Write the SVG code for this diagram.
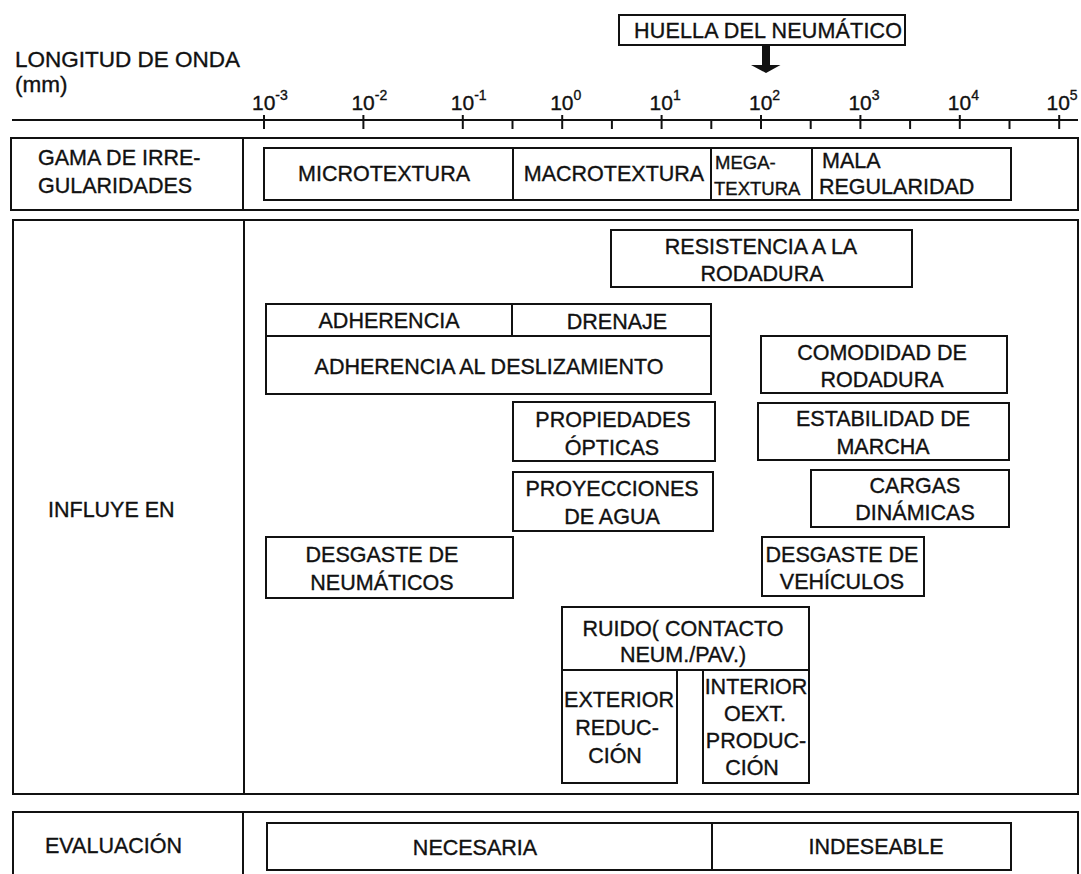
<svg xmlns="http://www.w3.org/2000/svg" width="1081" height="874" viewBox="0 0 1081 874">
<style>
.box{fill:none;stroke:#111;stroke-width:2}
.ln{stroke:#111;stroke-width:2;fill:none}
.t{font-family:'Liberation Sans',Arial,sans-serif;font-size:21.5px;fill:#111;stroke:#111;stroke-width:0.35}
.s{font-size:18.5px}
.ax{font-size:21px}
.sup{font-size:14px}
.ttl{font-size:22.5px}
.c{text-anchor:middle}
</style>
<rect width="1081" height="874" fill="#fff"/>

<g id="title">
<text class="t ttl" x="15" y="67">LONGITUD DE ONDA</text>
<text class="t ttl" x="15" y="92">(mm)</text>
</g>

<g id="huella">
<rect class="box" x="619" y="15" width="286" height="30"/>
<text class="t" x="634" y="38" textLength="268">HUELLA DEL NEUMÁTICO</text>
</g>

<g id="connectors">
<path d="M762 45 H770 V65 H780.5 L766 73 L751 65 H762 Z" fill="#111"/>
</g>

<g id="axis">
<line class="ln" x1="12" y1="120" x2="1078" y2="120"/>
<g class="ln">
<line x1="264" y1="115" x2="264" y2="129"/>
<line x1="363.4" y1="115" x2="363.4" y2="129"/>
<line x1="462.8" y1="115" x2="462.8" y2="129"/>
<line x1="562.2" y1="115" x2="562.2" y2="129"/>
<line x1="661.6" y1="115" x2="661.6" y2="129"/>
<line x1="761" y1="115" x2="761" y2="129"/>
<line x1="860.4" y1="115" x2="860.4" y2="129"/>
<line x1="959.8" y1="115" x2="959.8" y2="129"/>
<line x1="1059.2" y1="115" x2="1059.2" y2="129"/>
<line x1="512.5" y1="121" x2="512.5" y2="129"/>
<line x1="611.9" y1="121" x2="611.9" y2="129"/>
<line x1="711.3" y1="121" x2="711.3" y2="129"/>
<line x1="810.7" y1="121" x2="810.7" y2="129"/>
<line x1="910.1" y1="121" x2="910.1" y2="129"/>
<line x1="1009.5" y1="121" x2="1009.5" y2="129"/>
</g>
<text class="t ax" x="252" y="110">10<tspan class="sup" dy="-10">-3</tspan></text>
<text class="t ax" x="351.4" y="110">10<tspan class="sup" dy="-10">-2</tspan></text>
<text class="t ax" x="450.8" y="110">10<tspan class="sup" dy="-10">-1</tspan></text>
<text class="t ax" x="550.2" y="110">10<tspan class="sup" dy="-10">0</tspan></text>
<text class="t ax" x="649.6" y="110">10<tspan class="sup" dy="-10">1</tspan></text>
<text class="t ax" x="749" y="110">10<tspan class="sup" dy="-10">2</tspan></text>
<text class="t ax" x="848.4" y="110">10<tspan class="sup" dy="-10">3</tspan></text>
<text class="t ax" x="947.8" y="110">10<tspan class="sup" dy="-10">4</tspan></text>
<text class="t ax" x="1046.5" y="110">10<tspan class="sup" dy="-10">5</tspan></text>
</g>

<g id="row-gama">
<rect class="box" x="11" y="138" width="1067" height="72"/>
<line class="ln" x1="243" y1="138" x2="243" y2="210"/>
<text class="t" x="38" y="165">GAMA DE IRRE-</text>
<text class="t" x="38" y="193">GULARIDADES</text>
</g>
<g id="microtextura">
<rect class="box" x="264" y="148" width="249" height="52"/>
<text class="t c" x="384" y="181">MICROTEXTURA</text>
</g>
<g id="macrotextura">
<rect class="box" x="513" y="148" width="198" height="52"/>
<text class="t c" x="614" y="181">MACROTEXTURA</text>
</g>
<g id="megatextura">
<rect class="box" x="711" y="148" width="101" height="52"/>
<text class="t s" x="715" y="169">MEGA-</text>
<text class="t s" x="714" y="195">TEXTURA</text>
</g>
<g id="mala-regularidad">
<rect class="box" x="812" y="148" width="199" height="52"/>
<text class="t" x="822" y="168">MALA</text>
<text class="t" x="819" y="194">REGULARIDAD</text>
</g>

<g id="row-influye">
<rect class="box" x="13" y="220" width="1065" height="574"/>
<line class="ln" x1="244" y1="220" x2="244" y2="794"/>
<text class="t" x="48" y="517">INFLUYE EN</text>
</g>
<g id="resistencia">
<rect class="box" x="611" y="230" width="301" height="57"/>
<text class="t c" x="761" y="254">RESISTENCIA A LA</text>
<text class="t c" x="762" y="281">RODADURA</text>
</g>
<g id="adherencia">
<rect class="box" x="266" y="304" width="246" height="32"/>
<text class="t c" x="389" y="328">ADHERENCIA</text>
</g>
<g id="drenaje">
<rect class="box" x="512" y="304" width="199" height="32"/>
<text class="t c" x="617" y="329">DRENAJE</text>
</g>
<g id="adherencia-deslizamiento">
<rect class="box" x="266" y="336" width="445" height="58"/>
<text class="t c" x="489" y="374">ADHERENCIA AL DESLIZAMIENTO</text>
</g>
<g id="comodidad">
<rect class="box" x="761" y="336" width="246" height="57"/>
<text class="t c" x="882" y="360">COMODIDAD DE</text>
<text class="t c" x="882" y="387">RODADURA</text>
</g>
<g id="propiedades-opticas">
<rect class="box" x="513" y="402" width="202" height="59"/>
<text class="t c" x="613" y="427">PROPIEDADES</text>
<text class="t c" x="612" y="455">ÓPTICAS</text>
</g>
<g id="estabilidad">
<rect class="box" x="758" y="403" width="251" height="57"/>
<text class="t c" x="883" y="426">ESTABILIDAD DE</text>
<text class="t c" x="883" y="454">MARCHA</text>
</g>
<g id="proyecciones">
<rect class="box" x="513" y="472" width="200" height="59"/>
<text class="t c" x="612" y="496">PROYECCIONES</text>
<text class="t c" x="612" y="524">DE AGUA</text>
</g>
<g id="cargas">
<rect class="box" x="811" y="470" width="198" height="57"/>
<text class="t c" x="915" y="493">CARGAS</text>
<text class="t c" x="915" y="520">DINÁMICAS</text>
</g>
<g id="desgaste-neumaticos">
<rect class="box" x="266" y="537" width="247" height="61"/>
<text class="t c" x="382" y="562">DESGASTE DE</text>
<text class="t c" x="382" y="590">NEUMÁTICOS</text>
</g>
<g id="desgaste-vehiculos">
<rect class="box" x="762" y="537" width="162" height="59"/>
<text class="t c" x="842" y="562">DESGASTE DE</text>
<text class="t c" x="842" y="589">VEHÍCULOS</text>
</g>
<g id="ruido">
<rect class="box" x="562" y="607" width="247" height="63"/>
<text class="t c" x="683" y="636">RUIDO( CONTACTO</text>
<text class="t c" x="683" y="662">NEUM./PAV.)</text>
</g>
<g id="exterior">
<rect class="box" x="562" y="670" width="115" height="113"/>
<text class="t c" x="619" y="707">EXTERIOR</text>
<text class="t c" x="617" y="735">REDUC-</text>
<text class="t c" x="615" y="763">CIÓN</text>
</g>
<g id="interior">
<rect class="box" x="703" y="670" width="106" height="113"/>
<text class="t c" x="756" y="694">INTERIOR</text>
<text class="t c" x="755" y="721">OEXT.</text>
<text class="t c" x="756" y="748">PRODUC-</text>
<text class="t c" x="752" y="775">CIÓN</text>
</g>

<g id="row-evaluacion">
<rect class="box" x="13" y="812" width="1065" height="70"/>
<line class="ln" x1="243" y1="812" x2="243" y2="882"/>
<text class="t" x="45" y="853">EVALUACIÓN</text>
</g>
<g id="necesaria">
<rect class="box" x="267" y="823" width="445" height="47"/>
<text class="t c" x="475" y="855">NECESARIA</text>
</g>
<g id="indeseable">
<rect class="box" x="712" y="823" width="299" height="47"/>
<text class="t c" x="876" y="854">INDESEABLE</text>
</g>
</svg>
